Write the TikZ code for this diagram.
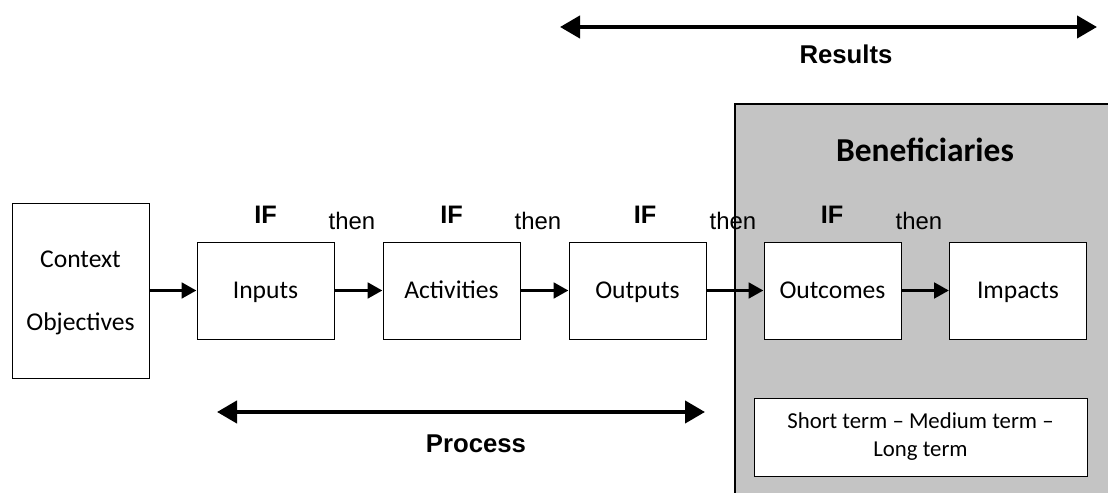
\documentclass[tikz,border=0pt]{standalone}
\usepackage{fontspec}
\setmainfont{Carlito}
\newfontfamily\arialfont{Liberation Sans}
\definecolor{benegray}{HTML}{C4C4C4}
\usetikzlibrary{arrows.meta, positioning}
\newcommand{\flow}[2]
{
	\draw[flowline] (#1.east) -- (#2.west)
}

\begin{document}
\begin{tikzpicture}[
	box/.style={shape=rectangle, draw=black, line width=0.7pt, fill=white,
		minimum width=3.425cm, minimum height=2.425cm, inner sep=0pt,
		font=\fontsize{18.2}{21.6}\selectfont},
	stepbox/.style={box, text height=14.7pt, text depth=3pt},
	iflabel/.style={font=\arialfont\bfseries\fontsize{18}{21}\selectfont},
	thenlabel/.style={font=\arialfont\fontsize{17}{20}\selectfont},
	spanlabel/.style={font=\arialfont\bfseries\fontsize{18.3}{21}\selectfont},
	flowline/.style={line width=2.8pt, -{Triangle[length=0.37cm, width=0.38cm]}},
	span/.style={line width=3pt,
		{Triangle[length=0.5cm, width=0.55cm]}-{Triangle[length=0.5cm, width=0.55cm]}}]

	\useasboundingbox (0, 0) rectangle (27.7, 12.325);

	% beneficiaries area
	\fill[benegray] (18.375, -1) rectangle (28, 9.725);
	\draw[line width=2pt] (18.375, -1) -- (18.375, 9.725) -- (28, 9.725);
	\node[font=\bfseries\fontsize{23.8}{27}\selectfont] at (23.125, 8.575) (BEN){Beneficiaries};

	% chain
	\node[box, minimum height=4.375cm, align=center, text depth=0pt] at (2.0125, 5.0625) (CO){Context\\[23pt]Objectives};
	\node[stepbox] at (6.6375, 5.0625) (IN){Inputs};
	\node[stepbox] at (11.2875, 5.0625) (AC){Activities};
	\node[stepbox] at (15.9375, 5.0625) (OU){Outputs};
	\node[stepbox] at (20.8125, 5.0625) (OC){Outcomes};
	\node[stepbox] at (25.45, 5.0625) (IM){Impacts};
	\flow{CO}{IN};
	\flow{IN}{AC};
	\flow{AC}{OU};
	\flow{OU}{OC};
	\flow{OC}{IM};

	\node[iflabel] at (6.6375, 6.95) (IFA){IF};
	\node[iflabel] at (11.2875, 6.95) (IFB){IF};
	\node[iflabel] at (16.125, 6.95) (IFC){IF};
	\node[iflabel] at (20.8, 6.95) (IFD){IF};
	\node[thenlabel] at (8.8, 6.8) (THA){then};
	\node[thenlabel] at (13.45, 6.8) (THB){then};
	\node[thenlabel] at (18.325, 6.8) (THC){then};
	\node[thenlabel] at (22.975, 6.8) (THD){then};

	% spans
	\coordinate (RL) at (14.0, 11.65);
	\coordinate (RR) at (27.425, 11.65);
	\draw[span] (RL) -- (RR);
	\node[spanlabel] at (21.15, 10.975) (RES){Results};
	\coordinate (PL) at (5.425, 2.025);
	\coordinate (PR) at (17.625, 2.025);
	\draw[span] (PL) -- (PR);
	\node[spanlabel] at (11.9, 1.225) (PRO){Process};

	\node[box, minimum width=8.325cm, minimum height=1.95cm, align=center,
		font=\fontsize{16.2}{19.9}\selectfont] at (23.0125, 1.4) (TERM){Short term – Medium term –\\Long term};
\end{tikzpicture}
\end{document}
